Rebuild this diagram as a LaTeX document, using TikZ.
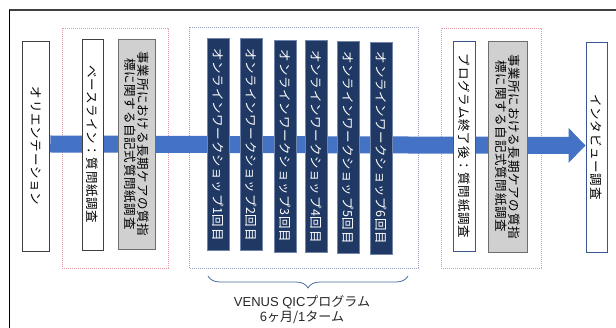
\documentclass[tikz,border=0pt]{standalone}
\usepackage{fontspec}
\setmainfont{Noto Sans CJK JP}
\newfontfamily\jp[LetterSpace=6]{Noto Sans CJK JP}
\newfontfamily\lat{Liberation Sans}
\usetikzlibrary{arrows.meta,decorations.pathreplacing}
\definecolor{arrowblue}{HTML}{4472C4}
\definecolor{navy}{HTML}{1F3864}
\definecolor{navyedge}{HTML}{7084AC}
\definecolor{grayfill}{HTML}{D0D0D0}
\definecolor{grayedge}{HTML}{6E6E6E}
\definecolor{darkedge}{HTML}{404040}
\definecolor{blueedge}{HTML}{3A5590}
\definecolor{pinkdot}{HTML}{E79AA4}
\definecolor{greydot}{HTML}{9AA0BC}
\definecolor{bracecol}{HTML}{4A6AA0}
\begin{document}
\begin{tikzpicture}[x=1pt,y=-1pt,
  vbox/.style={rotate=-90, inner sep=0pt, align=center, line width=0.9pt,
    font=\jp\fontsize{12.5}{12.8}\selectfont, text=black},
  whitebox/.style={vbox, draw=darkedge, fill=white},
  bluebox/.style={vbox, draw=blueedge, fill=white},
  graybox/.style={vbox, draw=grayedge, fill=grayfill},
  wsbox/.style={vbox, draw=navyedge, fill=navy, text=white, line width=0.6pt,
    minimum width=212pt, minimum height=22pt},
  pinkgroup/.style={draw=pinkdot, line width=0.8pt, dash pattern=on 0.9pt off 1.1pt},
  greygroup/.style={draw=greydot, line width=0.8pt, dash pattern=on 0.9pt off 1.1pt},
  labeltext/.style={align=center, font=\fontsize{13}{15}\selectfont, text=black!85, inner sep=0pt}
]
\useasboundingbox (0,0) rectangle (616,328);
% frame
\draw[line width=2pt, black!75] (9,10) -- (616,10);
\draw[line width=1.5pt, black] (9.5,10) -- (9.5,328);
% group boxes
\draw[pinkgroup] (62,28) rectangle (168,268);
\draw[greygroup] (189,27) rectangle (418,268);
\draw[pinkgroup] (441,28) rectangle (541,268);
% end nodes
\node[whitebox, minimum width=210pt, minimum height=27pt] (orient) at (36.3,146) {オリエンテーション};
\node[bluebox, minimum width=210pt, minimum height=21pt] (interview) at (596.5,147) {インタビュー調査};
% arrow
\draw[arrowblue, line width=17pt, -{Triangle[width=34pt,length=17pt]}]
  ([yshift=2pt]orient.north) -- ([yshift=1.5pt]interview.south);
% baseline
\node[whitebox, minimum width=211pt, minimum height=21pt] (base) at (92.5,144.5) {ベースライン：質問紙調査};
\node[graybox, minimum width=210pt, minimum height=37pt] (qi1) at (136.5,144) {事業所における長期ケアの質指\\標に関する自記式質問紙調査};
% workshops
\node[wsbox] (w1) at (218,144.5) {オンラインワークショップ1回目};
\node[wsbox] (w2) at (251.5,144.5) {オンラインワークショップ2回目};
\node[wsbox] (w3) at (285,146) {オンラインワークショップ3回目};
\node[wsbox] (w4) at (316.5,146.5) {オンラインワークショップ4回目};
\node[wsbox] (w5) at (348.5,147.5) {オンラインワークショップ5回目};
\node[wsbox] (w6) at (381,148) {オンラインワークショップ6回目};
% after program
\node[bluebox, minimum width=210pt, minimum height=22pt] (post) at (464,146) {プログラム終了後：質問紙調査};
\node[graybox, minimum width=211pt, minimum height=39pt] (qi2) at (507.5,146.5) {事業所における長期ケアの質指\\標に関する自記式質問紙調査};
% brace
\coordinate (bl) at (208,276);
\coordinate (br) at (408,276);
\draw[bracecol, line width=0.8pt, decorate, decoration={brace, mirror, amplitude=12pt, aspect=0.5}] (bl) -- (br);
\node[labeltext] (prog) at (302,309.5) {{\lat VENUS QIC}プログラム\\6ヶ月/{\lat 1}ターム};
\end{tikzpicture}
\end{document}
